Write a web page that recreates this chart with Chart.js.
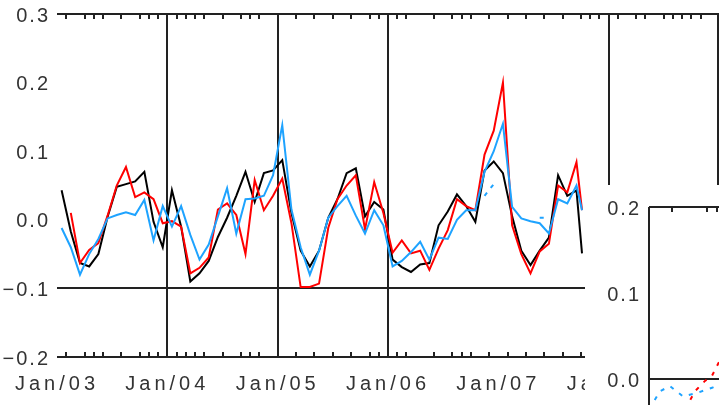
<!DOCTYPE html>
<html><head><meta charset="utf-8">
<script src="https://cdn.jsdelivr.net/npm/chart.js@4.4.1/dist/chart.umd.min.js"></script>
<style>
html,body{margin:0;padding:0;background:#fff;overflow:hidden}
#wrap{position:relative;width:719px;height:405px}
#main{position:absolute;left:0;top:0}
#inset{position:absolute;left:585px;top:185px;background:#fff}
</style></head><body>
<div id="wrap">
<canvas id="main" width="719" height="405"></canvas>
<canvas id="inset" width="134" height="220"></canvas>
</div>
<script>
// ---- data (months since Jan 2003) ----
const months = [0.5,1.5,2.5,3.5,4.5,5.5,6.5,7.5,8.5,9.5,10.5,11.5,
  12.5,13.5,14.5,15.5,16.5,17.5,18.5,19.5,20.5,21.5,22.5,23.5,
  24.5,25.5,26.5,27.5,28.5,29.5,30.5,31.5,32.5,33.5,34.5,35.5,
  36.5,37.5,38.5,39.5,40.5,41.5,42.5,43.5,44.5,45.5,46.5,47.5,
  48.5,49.5,50.5,51.5,52.5,53.5,54.5,55.5,56.5,57.1];
const blackSeries = [0.043,-0.017,-0.063,-0.068,-0.05,0.004,0.048,0.052,0.056,0.07,-0.003,-0.04,
  0.043,-0.01,-0.09,-0.078,-0.06,-0.025,0.003,0.035,0.07,0.026,0.068,0.072,
  0.087,0.01,-0.045,-0.068,-0.045,0.003,0.03,0.068,0.075,0.005,0.026,0.015,
  -0.058,-0.069,-0.076,-0.065,-0.063,-0.008,0.012,0.037,0.02,-0.003,0.072,0.085,
  0.068,0.005,-0.045,-0.066,-0.045,-0.026,0.065,0.035,0.043,-0.049];
const redSeries = [null,0.01,-0.063,-0.044,-0.034,0.006,0.05,0.077,0.033,0.04,0.03,-0.005,
  -0.002,-0.01,-0.078,-0.07,-0.055,0.015,0.024,0.007,-0.05,0.058,0.014,0.035,
  0.06,-0.005,-0.098,-0.098,-0.093,-0.012,0.03,0.05,0.065,-0.014,0.055,0.01,
  -0.048,-0.03,-0.049,-0.045,-0.073,-0.042,-0.015,0.03,0.02,0.014,0.095,0.13,
  0.2,-0.008,-0.05,-0.078,-0.046,-0.035,0.05,0.04,0.084,0.014];
const blueSeries = [-0.012,-0.04,-0.08,-0.05,-0.028,0.002,0.007,0.011,0.007,0.029,-0.03,0.02,
  -0.01,0.02,-0.022,-0.058,-0.036,0.005,0.046,-0.02,0.03,0.031,0.035,0.065,
  0.138,0.015,-0.04,-0.08,-0.045,0.003,0.02,0.035,0.006,-0.02,0.014,-0.008,
  -0.068,-0.06,-0.047,-0.032,-0.058,-0.026,-0.028,0.0,0.014,0.014,0.07,0.1,
  0.14,0.019,0.002,-0.002,-0.005,-0.02,0.03,0.024,0.05,0.014];
const blueDashSeries = [null,null,null,null,null,null,null,null,null,null,null,null,
  null,null,null,null,null,null,null,null,null,null,null,null,
  null,null,null,null,null,null,null,null,null,null,null,null,
  null,null,null,null,null,null,null,null,null,null,0.035,0.052,
  null,null,null,null,0.003,0.003,null,null,null,null];
const yearTicks = [0,12,24,36,48,60];
const yearLabels = ['Jan/03','Jan/04','Jan/05','Jan/06','Jan/07','Jan/08'];
const yTicks = [-0.2,-0.1,0.0,0.1,0.2,0.3];
const vlineMonths = [12,24,36,60,72];
const hlineValues = [-0.1];
const minorTickMonths = [1,3,4,5,7,9,10,11,13,14,15,16,18,20,21,22,26,28,30,32,34,35,37,38,
  41,43,44,45,47,49,51,53,55,57,58,59,61,63,64,66,67,68,69,70];
// inset
const insetX = [0,1.1,2.1,3.4,4.8,6.3,7];
const insetBlue = [-0.035,-0.014,-0.008,-0.02,-0.016,-0.01,-0.006];
const insetRedX = [3.6,4.6,5.6,6.3,7];
const insetRed = [-0.035,-0.014,-0.002,0.004,0.02];
const insetYTicks = [0.0,0.1,0.2];
const insetTopTicks = [2.3,5.8,6.8];

const FONT = {family:'Liberation Sans', size:20};
const TXT = '#333';
const LINE = '#222';
const BLUE = '#1ea3ff';

function pts(xs, ys){ return xs.map((m,i)=>({x:m,y:ys[i]})); }
function fmt(v){ return (v<0?'\u2212':'') + Math.abs(v).toFixed(1); }

function patchSpacing(scale, sp){
  if (!scale || scale._spPatched) return;
  const orig = scale.drawLabels.bind(scale);
  scale.drawLabels = function(a){ const ctx=this.ctx; const old=ctx.letterSpacing; ctx.letterSpacing=sp; orig(a); ctx.letterSpacing=old; };
  scale._spPatched = true;
}
const spacing = { id:'spacing',
  beforeLayout(c){ c.ctx.letterSpacing='4px'; },
  beforeDraw(c){ c.ctx.letterSpacing='4px'; patchSpacing(c.scales.y,'2px'); patchSpacing(c.scales.x,'4px'); } };

const frame = { id:'frame',
  beforeDatasetsDraw(c){
    const {ctx, chartArea:a, scales:{x,y}} = c;
    ctx.save();
    ctx.strokeStyle = LINE; ctx.lineWidth = 2;
    const yt = Math.round(y.getPixelForValue(0.3)), yb = Math.round(y.getPixelForValue(-0.2));
    ctx.beginPath();
    ctx.moveTo(a.left, yt); ctx.lineTo(a.right, yt);
    ctx.moveTo(a.left, yb); ctx.lineTo(a.right, yb);
    hlineValues.forEach(v=>{ const p=Math.round(y.getPixelForValue(v)); ctx.moveTo(a.left,p); ctx.lineTo(a.right,p); });
    vlineMonths.forEach(m=>{ const p=Math.min(Math.round(x.getPixelForValue(m)), a.right-1); ctx.moveTo(p,yt); ctx.lineTo(p,yb); });
    minorTickMonths.forEach(m=>{ const p=Math.round(x.getPixelForValue(m));
      ctx.moveTo(p,yt); ctx.lineTo(p,yt+5); ctx.moveTo(p,yb); ctx.lineTo(p,yb-5); });
    ctx.stroke();
    ctx.restore();
  } };

new Chart(document.getElementById('main'), {
  type:'line',
  data:{ datasets:[
    {data:pts(months,blueSeries), borderColor:BLUE, borderWidth:2, order:1},
    {data:pts(months,blueDashSeries), borderColor:BLUE, borderWidth:2, borderDash:[4,6], order:2},
    {data:pts(months,redSeries), borderColor:'#ff0000', borderWidth:2, order:3},
    {data:pts(months,blackSeries), borderColor:'#000', borderWidth:2, order:4}
  ]},
  options:{
    responsive:false, animation:false, devicePixelRatio:1,
    layout:{padding:{top:14,left:0,right:0,bottom:0}},
    elements:{point:{radius:0}, line:{tension:0}},
    plugins:{legend:{display:false}, tooltip:{enabled:false}},
    scales:{
      x:{type:'linear', min:0, max:72,
        afterBuildTicks(s){ s.ticks = yearTicks.map(v=>({value:v})); },
        afterFit(s){ s.height = 48; s.paddingLeft = 0; s.paddingRight = 0; },
        grid:{display:false, drawTicks:false}, border:{display:false},
        ticks:{autoSkip:false, maxRotation:0, padding:15, font:FONT, color:TXT,
          callback:(v)=>yearLabels[yearTicks.indexOf(v)] } },
      y:{type:'linear', min:-0.2, max:0.3,
        afterBuildTicks(s){ s.ticks = yTicks.map(v=>({value:v})); },
        afterFit(s){ s.width = 57; s.paddingTop = 0; s.paddingBottom = 0; },
        grid:{display:false, drawTicks:false}, border:{display:false},
        ticks:{padding:7, labelOffset:2, font:FONT, color:TXT, callback:(v)=>fmt(v)} }
    }
  },
  plugins:[spacing, frame]
});

const insetFrame = { id:'insetFrame',
  beforeDatasetsDraw(c){
    const {ctx, chartArea:a, scales:{x,y}} = c;
    ctx.save(); ctx.strokeStyle = LINE; ctx.lineWidth = 2;
    const yt = Math.round(y.getPixelForValue(0.2)), y0 = Math.round(y.getPixelForValue(0));
    const xl = Math.round(a.left);
    ctx.beginPath();
    ctx.moveTo(xl, yt); ctx.lineTo(a.right, yt);
    ctx.moveTo(xl, yt); ctx.lineTo(xl, a.bottom);
    ctx.moveTo(xl, y0); ctx.lineTo(a.right, y0);
    insetTopTicks.forEach(m=>{ const p=Math.round(x.getPixelForValue(m)); ctx.moveTo(p,yt); ctx.lineTo(p,yt+5); });
    ctx.stroke(); ctx.restore();
  } };

new Chart(document.getElementById('inset'), {
  type:'line',
  data:{ datasets:[
    {data:pts(insetRedX,insetRed), borderColor:'#ff0000', borderWidth:2, borderDash:[4,7]},
    {data:pts(insetX,insetBlue), borderColor:BLUE, borderWidth:2, borderDash:[4,7]}
  ]},
  options:{
    responsive:false, animation:false, devicePixelRatio:1,
    layout:{padding:{top:22,left:0,right:0,bottom:0}},
    elements:{point:{radius:0}, line:{tension:0}},
    plugins:{legend:{display:false}, tooltip:{enabled:false}},
    scales:{
      x:{type:'linear', min:0, max:7, display:false},
      y:{type:'linear', min:-0.03, max:0.2,
        afterBuildTicks(s){ s.ticks = insetYTicks.map(v=>({value:v})); },
        afterFit(s){ s.width = 64; s.paddingTop = 0; s.paddingBottom = 0; },
        grid:{display:false, drawTicks:false}, border:{display:false},
        ticks:{padding:8, labelOffset:2, font:FONT, color:TXT, callback:(v)=>fmt(v)} }
    }
  },
  plugins:[spacing, insetFrame]
});
</script>
</body></html>
